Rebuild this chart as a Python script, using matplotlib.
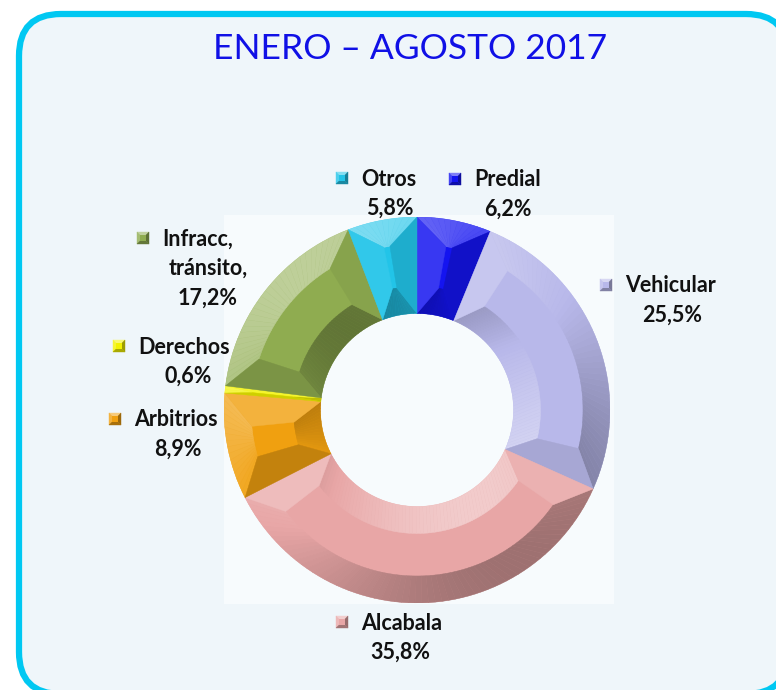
import numpy as np
import matplotlib
matplotlib.use("Agg")
import matplotlib.pyplot as plt
from matplotlib.patches import FancyBboxPatch, Rectangle, Polygon
from matplotlib.colors import to_rgb

# datos
titulo = "ENERO – AGOSTO 2017"
categorias = ["Predial", "Vehicular", "Alcabala", "Arbitrios", "Derechos", "Infracc,\ntránsito,", "Otros"]
porcentajes = [6.2, 25.5, 35.8, 8.9, 0.6, 17.2, 5.8]
colores = ["#1414f0", "#b8b8ea", "#e8a6a6", "#f0a010", "#f2f200", "#8fac50", "#22c4e8"]

# posicion de etiquetas en pixeles: (x cuadro, y cuadro, x centro del valor)
pos_etiquetas = [(455, 179, 508), (606, 285, 672), (342, 622, 400), (115, 419, 178),
                 (119, 346, 188), (143, 238, 208), (342, 178, 390)]

W, H = 776, 690
fig = plt.figure(figsize=(W / 100, H / 100), dpi=100)
fig.patch.set_facecolor("white")

bg = fig.add_axes([0, 0, 1, 1])
bg.set_xlim(0, W)
bg.set_ylim(H, 0)
bg.axis("off")

marco = FancyBboxPatch((19, 14), 769, 680, boxstyle="round,pad=0,rounding_size=42",
                       facecolor="#eff6fa", edgecolor="#00c8f2", linewidth=4.5)
bg.add_patch(marco)
bg.add_patch(Rectangle((224, 215), 390, 389, facecolor="#f7fbfd", edgecolor="none"))

bg.text(410, 49, titulo, ha="center", va="center", color="#1010e6",
        fontsize=25.5, family="Lato")


def tono(c, f):
    c = np.array(to_rgb(c))
    if f >= 0:
        return tuple(c + (1 - c) * f)
    return tuple(c * (1 + f))


luz = np.array([-0.6, 0.8])
luz = luz / np.linalg.norm(luz)


def sombra(nx, ny, k=1.0):
    d = nx * luz[0] + ny * luz[1]
    return k * (0.42 * d if d > 0 else 0.32 * d)


def pxy(r, a):
    a = np.radians(a)
    return (r * np.cos(a), r * np.sin(a))


# dona
ax = fig.add_axes([224 / W, 87 / H, 386 / W, 386 / H])
wedges, _ = ax.pie(porcentajes, colors=colores, startangle=90, counterclock=False,
                   radius=1, wedgeprops=dict(width=0.5, linewidth=0))
ax.set_aspect("equal")
ax.set_xlim(-1, 1)
ax.set_ylim(-1, 1)

for w, col in zip(wedges, colores):
    t1, t2 = w.theta1, w.theta2
    R = w.r
    r = R - w.width
    b = 0.28 * (R - r)
    d = min(np.degrees(b / ((R + r) / 2)), 0.45 * (t2 - t1))
    i1, i2 = t1 + d, t2 - d
    n = max(int((t2 - t1) / 2), 2)
    s = np.linspace(0, 1, n + 1)
    for k in range(n):
        a0, a1 = t1 + s[k] * (t2 - t1), t1 + s[k + 1] * (t2 - t1)
        b0, b1 = i1 + s[k] * (i2 - i1), i1 + s[k + 1] * (i2 - i1)
        am = np.radians((a0 + a1) / 2)
        # cara exterior
        c = tono(col, sombra(np.cos(am), np.sin(am)))
        ax.add_patch(Polygon([pxy(R, a0), pxy(R, a1), pxy(R - b, b1), pxy(R - b, b0)],
                             closed=True, facecolor=c, edgecolor=c, linewidth=0.3))
        # cara interior
        c = tono(col, sombra(-np.cos(am), -np.sin(am)))
        ax.add_patch(Polygon([pxy(r, a0), pxy(r, a1), pxy(r + b, b1), pxy(r + b, b0)],
                             closed=True, facecolor=c, edgecolor=c, linewidth=0.3))
    # caras laterales
    a = np.radians(t1)
    c = tono(col, sombra(np.sin(a), -np.cos(a), 0.6))
    ax.add_patch(Polygon([pxy(R, t1), pxy(r, t1), pxy(r + b, i1), pxy(R - b, i1)],
                         closed=True, facecolor=c, edgecolor=c, linewidth=0.3))
    a = np.radians(t2)
    c = tono(col, sombra(-np.sin(a), np.cos(a), 0.6))
    ax.add_patch(Polygon([pxy(R, t2), pxy(r, t2), pxy(r + b, i2), pxy(R - b, i2)],
                         closed=True, facecolor=c, edgecolor=c, linewidth=0.3))

# etiquetas con cuadro de leyenda
fuente = dict(family="Lato", fontweight="bold", fontsize=15.5, color="#111111")
for nombre, val, col, (kx, ky, cx) in zip(categorias, porcentajes, colores, pos_etiquetas):
    q = 6
    m = 3
    caras = [
        ([(kx - q, ky - q), (kx + q, ky - q), (kx + m, ky - m), (kx - m, ky - m)], 0.45),
        ([(kx - q, ky - q), (kx - q, ky + q), (kx - m, ky + m), (kx - m, ky - m)], 0.2),
        ([(kx + q, ky - q), (kx + q, ky + q), (kx + m, ky + m), (kx + m, ky - m)], -0.35),
        ([(kx - q, ky + q), (kx + q, ky + q), (kx + m, ky + m), (kx - m, ky + m)], -0.3),
    ]
    for pts, f in caras:
        c = tono(col, f)
        bg.add_patch(Polygon(pts, closed=True, facecolor=c, edgecolor=c, linewidth=0.3))
    bg.add_patch(Rectangle((kx - m, ky - m), 2 * m, 2 * m, facecolor=col, edgecolor="none"))

    lineas = nombre.split("\n") + [f"{val:.1f}".replace(".", ",") + "%"]
    bg.text(kx + 19, ky + 1, lineas[0], ha="left", va="center", **fuente)
    for j, t in enumerate(lineas[1:], start=1):
        bg.text(cx, ky + 1 + 29.5 * j, t, ha="center", va="center", **fuente)

fig.savefig("out.png", dpi=100)
